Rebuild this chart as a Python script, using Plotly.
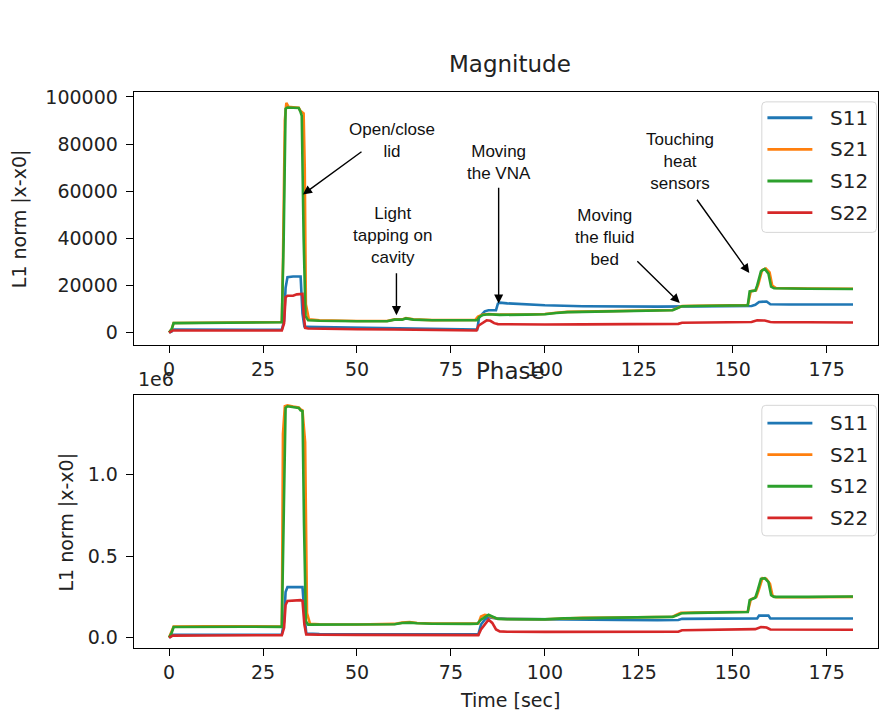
import plotly.graph_objects as go

W, H = 879, 716

# ---------------- Magnitude panel data ----------------
mag_t_s11 = [0, 0.7, 1, 10, 20, 30, 30.6, 31, 31.5, 33, 35, 35.5, 36, 36.5, 40, 50, 60, 70, 80, 82,
             82.5, 84, 85, 87, 87.5, 88, 90, 95, 100, 110, 120, 130, 140, 150, 155, 156, 157, 159,
             160, 165, 170, 182]
mag_s11 = [0, 500, 1300, 1300, 1200, 1200, 5000, 19000, 23500, 23800, 23800, 8000, 2600, 2400, 2300,
           2000, 1800, 1500, 1300, 1300, 6500, 9000, 9500, 9500, 12300, 12700, 12400, 12000, 11600,
           11200, 11000, 11000, 11100, 11200, 11300, 11800, 13000, 13200, 12000, 11900, 11900, 11900]

mag_t_s21 = [0, 0.7, 1.2, 10, 20, 30, 30.3, 30.8, 31.2, 31.8, 33, 34.5, 35, 35.8, 36.1, 36.4, 37.2,
             40, 50, 58, 60, 62, 63, 65, 70, 80, 81.5, 82.2, 83.5, 85, 86, 88, 95, 100, 103, 106,
             110, 120, 130, 134, 135.5, 136.5, 140, 150, 154, 154.8, 156.2, 156.8, 157.8, 158.8,
             159.8, 160.5, 161.5, 170, 182]
mag_s21 = [0, 1500, 4100, 4300, 4400, 4500, 30000, 90000, 97500, 95800, 95600, 95400, 94000, 93000,
           70000, 12000, 5600, 5200, 4900, 4900, 5600, 5600, 6100, 5600, 5300, 5300, 5400, 6800,
           7700, 7900, 7700, 7600, 7700, 7900, 8400, 8800, 8900, 9100, 9300, 9600, 10600, 11300,
           11400, 11500, 11700, 17600, 17900, 20500, 26500, 27200, 25500, 20000, 18900, 18700, 18600]

mag_t_s12 = [0, 0.7, 1.2, 10, 20, 30, 30.5, 31, 31.5, 33, 34.5, 35, 35.3, 35.8, 36.3, 37, 40, 50,
             58, 60, 62, 63, 65, 70, 80, 82, 82.5, 83.5, 85, 86, 88, 95, 100, 103, 106, 110, 120,
             130, 134, 135.5, 136.5, 140, 150, 154, 154.5, 156, 156.5, 157.5, 158.5, 159.5, 160.2,
             161, 170, 182]
mag_s12 = [0, 1500, 4000, 4200, 4300, 4400, 40000, 95000, 95500, 95500, 95300, 93500, 92000, 40000,
           7000, 5200, 5000, 4800, 4800, 5500, 5500, 6000, 5500, 5200, 5200, 5300, 6500, 7500, 7800,
           7600, 7500, 7600, 7800, 8300, 8700, 8800, 9000, 9200, 9500, 10500, 11200, 11300, 11400,
           11600, 17500, 17800, 20000, 26000, 27000, 25000, 19500, 18800, 18600, 18500]

mag_t_s22 = [0, 0.7, 1, 10, 20, 30, 30.6, 31, 31.5, 33, 34, 35, 35.5, 35.8, 36.2, 37, 40, 50, 60, 70,
             80, 81.8, 82.4, 83.5, 84.5, 85.5, 86.5, 87.5, 90, 100, 110, 120, 130, 135.5, 136.5, 140,
             150, 155, 156.5, 157.5, 158.5, 160, 161, 170, 182]
mag_s22 = [0, 500, 900, 900, 900, 900, 4000, 15000, 15600, 15600, 16200, 16500, 16400, 8000, 2000,
           1700, 1600, 1400, 1300, 1200, 900, 900, 3000, 4300, 5200, 5000, 4000, 3600, 3500, 3400,
           3500, 3500, 3600, 3700, 4200, 4300, 4400, 4500, 5200, 5300, 5100, 4500, 4400, 4400, 4300]

# ---------------- Phase panel data ----------------
ph_t_s11 = [0, 0.7, 1, 10, 20, 30, 30.6, 31, 31.5, 35, 35.5, 36, 36.5, 40, 50, 60, 70, 80, 82.3, 83,
            84, 85, 86, 87, 90, 100, 110, 120, 130, 135.5, 136.5, 150, 156.5, 157, 159.5, 160, 170, 182]
ph_s11 = [0, 10000, 18000, 18000, 18000, 18000, 100000, 280000, 310000, 310000, 310000, 150000,
          25000, 22000, 22000, 22000, 20000, 20000, 20000, 80000, 110000, 125000, 120000, 118000,
          115000, 112000, 108000, 108000, 107000, 108000, 115000, 117000, 118000, 135000, 135000,
          118000, 117000, 117000]

ph_t_s21 = [0, 0.7, 1.2, 10, 20, 30, 30.1, 30.3, 30.8, 31.5, 33, 34.5, 35, 35.5, 36.2, 36.7, 37.5,
            40, 50, 60, 62, 64, 66, 70, 80, 82.3, 83, 84, 85, 86, 87.5, 90, 100, 105, 110, 120, 130,
            134, 135.2, 136.2, 140, 150, 154, 154.8, 156.3, 156.9, 157.9, 158.9, 159.9, 160.6, 161.5,
            170, 182]
ph_s21 = [0, 35000, 68000, 70000, 69000, 68000, 400000, 1250000, 1420000, 1425000, 1418000, 1412000,
          1400000, 1395000, 1200000, 150000, 85000, 82000, 80000, 84000, 92000, 95000, 90000, 87000,
          86000, 87000, 130000, 140000, 135000, 125000, 116000, 114000, 113000, 119000, 121000,
          123000, 126000, 128000, 142000, 152000, 154000, 157000, 159000, 235000, 250000, 290000,
          365000, 362000, 330000, 255000, 248000, 248000, 250000]

ph_t_s12 = [0, 0.7, 1.2, 10, 20, 30, 30.4, 31, 31.5, 33, 34.5, 35, 35.5, 35.9, 36.4, 37, 40, 50, 60,
            62, 64, 66, 70, 80, 82, 83, 84, 85, 86, 87.5, 90, 100, 105, 110, 120, 130, 134, 135.5,
            136.5, 140, 150, 154, 154.5, 156, 156.5, 157.5, 158.5, 159.5, 160.2, 161, 170, 182]
ph_s12 = [0, 30000, 65000, 68000, 67000, 66000, 600000, 1410000, 1420000, 1415000, 1410000, 1395000,
          1390000, 700000, 100000, 80000, 80000, 78000, 82000, 90000, 92000, 88000, 85000, 84000,
          85000, 110000, 125000, 140000, 130000, 115000, 113000, 112000, 118000, 120000, 122000,
          125000, 127000, 140000, 150000, 152000, 155000, 157000, 230000, 245000, 280000, 360000,
          365000, 340000, 260000, 250000, 250000, 252000]

ph_t_s22 = [0, 0.7, 1, 10, 20, 30, 30.6, 31, 31.5, 33, 35, 35.5, 36, 36.5, 40, 50, 60, 70, 80, 82.3,
            83, 84, 85, 86, 87, 88, 90, 100, 110, 120, 130, 135.5, 136.5, 150, 156, 157.5, 159, 160,
            170, 182]
ph_s22 = [0, 8000, 12000, 13000, 14000, 15000, 60000, 200000, 225000, 228000, 230000, 225000, 80000,
          20000, 18000, 17000, 16000, 15000, 15000, 15000, 50000, 80000, 110000, 90000, 50000, 38000,
          36000, 35000, 36000, 35000, 35000, 36000, 45000, 48000, 52000, 65000, 62000, 50000, 48000,
          48000]

series_names = ["S11", "S21", "S12", "S22"]
x_ticks = [0, 25, 50, 75, 100, 125, 150, 175]
mag_y_ticks = [0, 20000, 40000, 60000, 80000, 100000]
ph_y_ticks = [0, 500000, 1000000]
ph_y_ticktext = ["0.0", "0.5", "1.0"]

# annotations: (text, text_x, text_y, tail_x, tail_y, tip_x, tip_y) in data coords
events = [
    ("Open/close<br>lid", 59.4, 81400, 51.6, 77200, 35.6, 58600),
    ("Light<br>tapping on<br>cavity", 59.4, 41000, 60.5, 25800, 60.5, 7400),
    ("Moving<br>the VNA", 87.7, 72300, 87.7, 62100, 87.7, 12300),
    ("Moving<br>the fluid<br>bed", 116.0, 40400, 124.2, 30900, 135.9, 12600),
    ("Touching<br>heat<br>sensors", 136.0, 72500, 140.2, 57000, 154.4, 25300),
]

colors = ["#1f77b4", "#ff7f0e", "#2ca02c", "#d62728"]
FONT = "DejaVu Sans"
TXT = "#222222"

fig = go.Figure()
mag_data = [(mag_t_s11, mag_s11), (mag_t_s21, mag_s21), (mag_t_s12, mag_s12), (mag_t_s22, mag_s22)]
ph_data = [(ph_t_s11, ph_s11), (ph_t_s21, ph_s21), (ph_t_s12, ph_s12), (ph_t_s22, ph_s22)]

for i, (name, (t, v)) in enumerate(zip(series_names, mag_data)):
    fig.add_trace(go.Scatter(x=t, y=v, mode="lines", name=name, showlegend=False,
                             line=dict(color=colors[i], width=2.6),
                             xaxis="x", yaxis="y"))
for i, (name, (t, v)) in enumerate(zip(series_names, ph_data)):
    fig.add_trace(go.Scatter(x=t, y=v, mode="lines", name=name, showlegend=False,
                             line=dict(color=colors[i], width=2.6),
                             xaxis="x2", yaxis="y2"))

def px(x):
    return x / W

def py(y):
    return 1 - y / H

x_left, x_right = 134, 879
xrange = [-9.38, 188.65]

axis_common = dict(showline=True, linecolor="black", linewidth=1.3, mirror=True,
                   ticks="outside", ticklen=7, tickwidth=1.3, tickcolor="black",
                   showgrid=False, zeroline=False,
                   tickfont=dict(family=FONT, size=19, color=TXT))

fig.update_layout(
    width=W, height=H,
    margin=dict(l=0, r=0, t=0, b=0),
    paper_bgcolor="white", plot_bgcolor="white",
    showlegend=False,
    xaxis=dict(domain=[px(x_left), px(x_right)], range=xrange, tickvals=x_ticks,
               anchor="y", **axis_common),
    yaxis=dict(domain=[py(341.7), py(86.7)], range=[-5200, 102100], tickvals=mag_y_ticks,
               tickformat="d", anchor="x", ticklabelstandoff=4, **axis_common),
    xaxis2=dict(domain=[px(x_left), px(x_right)], range=xrange, tickvals=x_ticks,
                anchor="y2", **axis_common),
    yaxis2=dict(domain=[py(647.3), py(392.3)], range=[-63000, 1489000], tickvals=ph_y_ticks,
                ticktext=ph_y_ticktext, anchor="x2", ticklabelstandoff=4, **axis_common),
)

anns = []
shapes = []
# titles
anns.append(dict(text="Magnitude", x=px(511), y=py(58), xref="paper", yref="paper",
                 showarrow=False, font=dict(family=FONT, size=23, color=TXT),
                 xanchor="center", yanchor="middle"))
anns.append(dict(text="Phase", x=px(511), y=py(368), xref="paper", yref="paper",
                 showarrow=False, font=dict(family=FONT, size=23, color=TXT),
                 xanchor="center", yanchor="middle"))
anns.append(dict(text="1e6", x=px(136), y=py(376), xref="paper", yref="paper",
                 showarrow=False, font=dict(family=FONT, size=19, color=TXT),
                 xanchor="left", yanchor="middle"))
anns.append(dict(text="Time [sec]", x=px(511), y=py(700), xref="paper", yref="paper",
                 showarrow=False, font=dict(family=FONT, size=19, color=TXT),
                 xanchor="center", yanchor="middle"))
anns.append(dict(text="L1 norm |x-x0|", x=px(19), y=py(214), xref="paper", yref="paper",
                 showarrow=False, textangle=-90, font=dict(family=FONT, size=19, color=TXT),
                 xanchor="center", yanchor="middle"))
anns.append(dict(text="L1 norm |x-x0|", x=px(67), y=py(520), xref="paper", yref="paper",
                 showarrow=False, textangle=-90, font=dict(family=FONT, size=19, color=TXT),
                 xanchor="center", yanchor="middle"))

for text, tx, ty, ax, ay, hx, hy in events:
    anns.append(dict(text=text, x=tx, y=ty, xref="x", yref="y", showarrow=False,
                     font=dict(family="Liberation Sans", size=17, color="#111"),
                     xanchor="center", yanchor="middle", align="center"))
    anns.append(dict(text="", x=hx, y=hy, ax=ax, ay=ay, xref="x", yref="y",
                     axref="x", ayref="y", showarrow=True, arrowhead=2, arrowsize=1.3,
                     arrowwidth=1.4, arrowcolor="black", standoff=0, startstandoff=0))

# manual matplotlib-style legends
def rounded_box(x0, y0, x1, y1, r=4):
    X = lambda v: px(v)
    Y = lambda v: py(v)
    return (f"M {X(x0 + r)} {Y(y0)} L {X(x1 - r)} {Y(y0)} Q {X(x1)} {Y(y0)} {X(x1)} {Y(y0 + r)} "
            f"L {X(x1)} {Y(y1 - r)} Q {X(x1)} {Y(y1)} {X(x1 - r)} {Y(y1)} "
            f"L {X(x0 + r)} {Y(y1)} Q {X(x0)} {Y(y1)} {X(x0)} {Y(y1 - r)} "
            f"L {X(x0)} {Y(y0 + r)} Q {X(x0)} {Y(y0)} {X(x0 + r)} {Y(y0)} Z")

for top, rows in [(96.7, [112.7, 144.5, 176.5, 208.3]), (402.7, [420.7, 452.5, 484.3, 516.2])]:
    shapes.append(dict(type="path", path=rounded_box(762.7, top, 877.5, top + 131.6),
                       xref="paper", yref="paper", fillcolor="rgba(255,255,255,0.85)",
                       line=dict(color="#d6d6d6", width=1), layer="above"))
    for i, yy in enumerate(rows):
        shapes.append(dict(type="line", x0=px(768.3), x1=px(813.3), y0=py(yy), y1=py(yy),
                           xref="paper", yref="paper", line=dict(color=colors[i], width=2.8),
                           layer="above"))
        anns.append(dict(text=series_names[i], x=px(829), y=py(yy), xref="paper", yref="paper",
                         showarrow=False, font=dict(family=FONT, size=20, color=TXT),
                         xanchor="left", yanchor="middle"))

fig.update_layout(annotations=anns, shapes=shapes)

fig.write_html("out.html")
